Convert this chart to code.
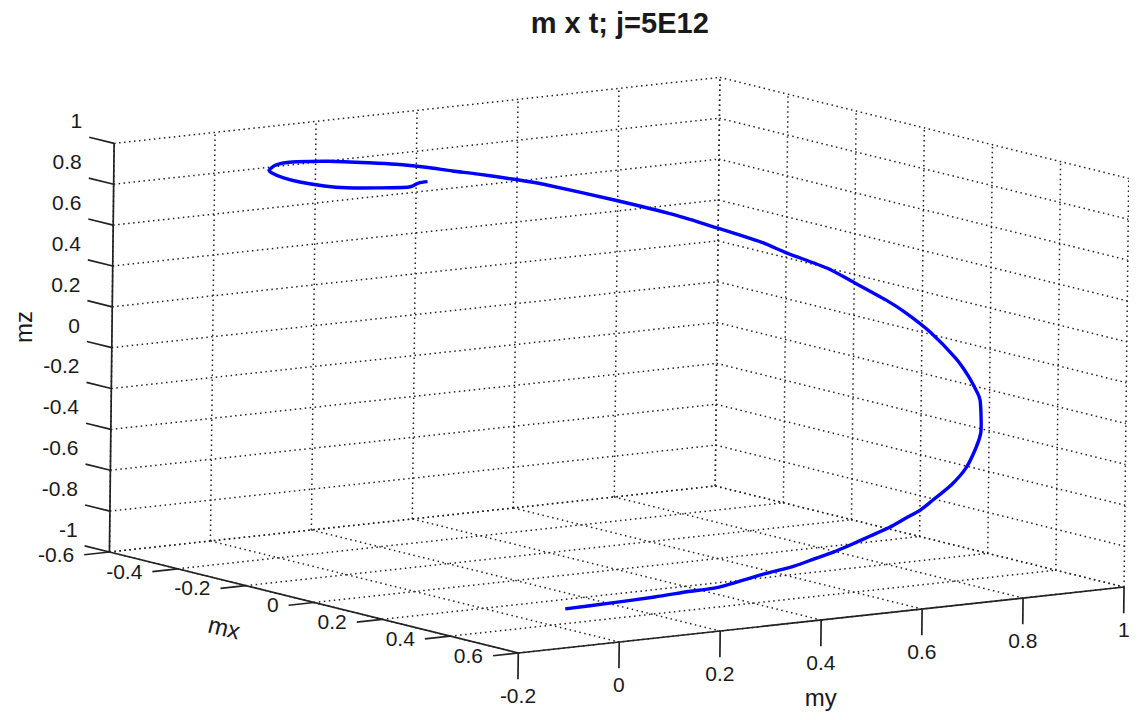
import numpy as np, pandas as pd, altair as alt

# magnetisation trajectory
mx = [0.494,0.496,0.528,0.472,0.600,0.571,0.587,0.567,0.567,0.556,0.545,0.548,0.535,0.531,0.507,0.482,0.445,0.389,0.351,0.309,0.255,0.228,0.171,0.114,0.024,-0.041,-0.088,-0.157,
      -0.204,-0.272,-0.307,-0.366,-0.412,-0.468,-0.511,-0.526,-0.538,-0.546,-0.540,-0.530,-0.518,-0.446,-0.475,-0.485,-0.473,-0.352,-0.298,-0.215,-0.150,-0.094,-0.039,0.000,0.023,0.000,-0.003]
my = [-0.036,0.055,0.118,0.220,0.197,0.299,0.354,0.406,0.445,0.486,0.533,0.570,0.610,0.641,0.682,0.735,0.789,0.846,0.881,0.910,0.944,0.956,0.976,0.990,1.000,0.996,0.988,0.969,
      0.948,0.915,0.887,0.839,0.786,0.704,0.590,0.540,0.481,0.435,0.378,0.312,0.250,0.123,0.077,0.058,0.033,-0.060,-0.091,-0.124,-0.136,-0.125,-0.119,-0.080,-0.036,-0.002,0.018]
mz = [-0.872,-0.866,-0.841,-0.866,-0.784,-0.764,-0.729,-0.717,-0.693,-0.674,-0.647,-0.612,-0.584,-0.555,-0.527,-0.478,-0.424,-0.365,-0.317,-0.278,-0.212,-0.187,-0.133,-0.077,0.011,0.078,0.124,0.189,
      0.244,0.298,0.345,0.403,0.462,0.534,0.625,0.657,0.692,0.716,0.752,0.789,0.818,0.889,0.887,0.882,0.881,0.934,0.950,0.969,0.979,0.980,0.992,0.997,0.999,1.000,1.000]

mx_ticks = [-0.6,-0.4,-0.2,0,0.2,0.4,0.6]
my_ticks = [-0.2,0,0.2,0.4,0.6,0.8,1]
mz_ticks = [-1,-0.8,-0.6,-0.4,-0.2,0,0.2,0.4,0.6,0.8,1]
fmt = lambda v: f"{v:g}"

TITLE = "m x t; j=5E12"
BLUE = "#0000FF"
INK = "#1a1a1a"
FONT = "Liberation Sans"

# camera of the 3-D view: data -> view plane (orthographic)
CAM_U = (421.35, 342.5, 507.5, 2.35)
CAM_V = (387.2, 84.2, -55.0, -204.3)

def project(x, y, z):
    return (CAM_U[0]+CAM_U[1]*x+CAM_U[2]*y+CAM_U[3]*z,
            CAM_V[0]+CAM_V[1]*x+CAM_V[2]*y+CAM_V[3]*z)

def segs(pairs):
    rows = []
    for i, (p, q) in enumerate(pairs):
        for o, pt in enumerate((p, q)):
            u, v = project(*pt)
            rows.append(dict(seg=i, o=o, u=u, v=v))
    return pd.DataFrame(rows)

X0, X1 = mx_ticks[0], mx_ticks[-1]
Y0, Y1 = my_ticks[0], my_ticks[-1]
Z0, Z1 = mz_ticks[0], mz_ticks[-1]

grid = []
for x in mx_ticks:
    grid.append(((x, Y0, Z0), (x, Y1, Z0)))
    grid.append(((x, Y1, Z0), (x, Y1, Z1)))
for y in my_ticks:
    grid.append(((X0, y, Z0), (X1, y, Z0)))
    grid.append(((X0, y, Z0), (X0, y, Z1)))
for z in mz_ticks:
    grid.append(((X0, Y0, z), (X0, Y1, z)))
    grid.append(((X0, Y1, z), (X1, Y1, z)))

TX, TY, TZ = 0.05, 0.128, 0.073
axes = [((X0, Y0, Z0), (X1, Y0, Z0)), ((X1, Y0, Z0), (X1, Y1, Z0)), ((X0, Y0, Z0), (X0, Y0, Z1))]
for x in mx_ticks:
    axes.append(((x, Y0, Z0), (x, Y0-TX, Z0)))
for y in my_ticks:
    axes.append(((X1, y, Z0), (X1, y, Z0-TY)))
for z in mz_ticks:
    axes.append(((X0, Y0, z), (X0-TZ, Y0, z)))

def lab(ticks, fn):
    rows = []
    for t in ticks:
        u, v = project(*fn(t))
        rows.append(dict(u=u, v=v, t=fmt(t)))
    return pd.DataFrame(rows)

W, H = 1121, 703
sx = alt.Scale(domain=[10, 1137], range=[0, W])
sy = alt.Scale(domain=[8+H, 8], range=[H, 0])
X = alt.X("u:Q", scale=sx, axis=None)
Y = alt.Y("v:Q", scale=sy, axis=None)

def lines(df, **kw):
    return alt.Chart(df).mark_line(**kw).encode(x=X, y=Y, detail="seg:N", order="o:Q")

def text(df, **kw):
    return alt.Chart(df).mark_text(font=FONT, color=INK, **kw).encode(x=X, y=Y, text="t:N")

cu, cv = project(np.array(mx), np.array(my), np.array(mz))
curve = pd.DataFrame(dict(u=cu, v=cv, o=range(len(mx))))

layers = [
    lines(segs(grid), color="#222222", strokeWidth=1.5, strokeDash=[1.5, 3.5]),
    lines(segs(axes), color="#222222", strokeWidth=1.7),
    alt.Chart(curve).mark_line(color=BLUE, strokeWidth=3.4, interpolate="cardinal", tension=0.3).encode(x=X, y=Y, order="o:Q"),
    text(lab(mz_ticks, lambda t: (X0-TZ, Y0, t)), align="right", baseline="middle", fontSize=21, dx=-7, dy=-15),
    text(lab(mx_ticks, lambda t: (t, Y0-TX, Z0)), align="right", baseline="middle", fontSize=21, dx=-10, dy=1),
    text(lab(my_ticks, lambda t: (X1, t, Z0-TY)), align="center", baseline="middle", fontSize=21, dy=18),
    text(pd.DataFrame([dict(u=227, v=629, t="mx")]), align="center", baseline="middle", fontSize=24, angle=14),
    text(pd.DataFrame([dict(u=827, v=699, t="my")]), align="center", baseline="middle", fontSize=24),
    text(pd.DataFrame([dict(u=27, v=327, t="mz")]), align="center", baseline="middle", fontSize=24, angle=270),
    text(pd.DataFrame([dict(u=625, v=24, t=TITLE)]), align="center", baseline="middle", fontSize=29, fontWeight="bold"),
]

chart = alt.layer(*layers).properties(width=W, height=H, padding=0, autosize="none").configure_view(stroke=None)
chart.save("out.html", embed_options={"renderer": "svg", "actions": False})
